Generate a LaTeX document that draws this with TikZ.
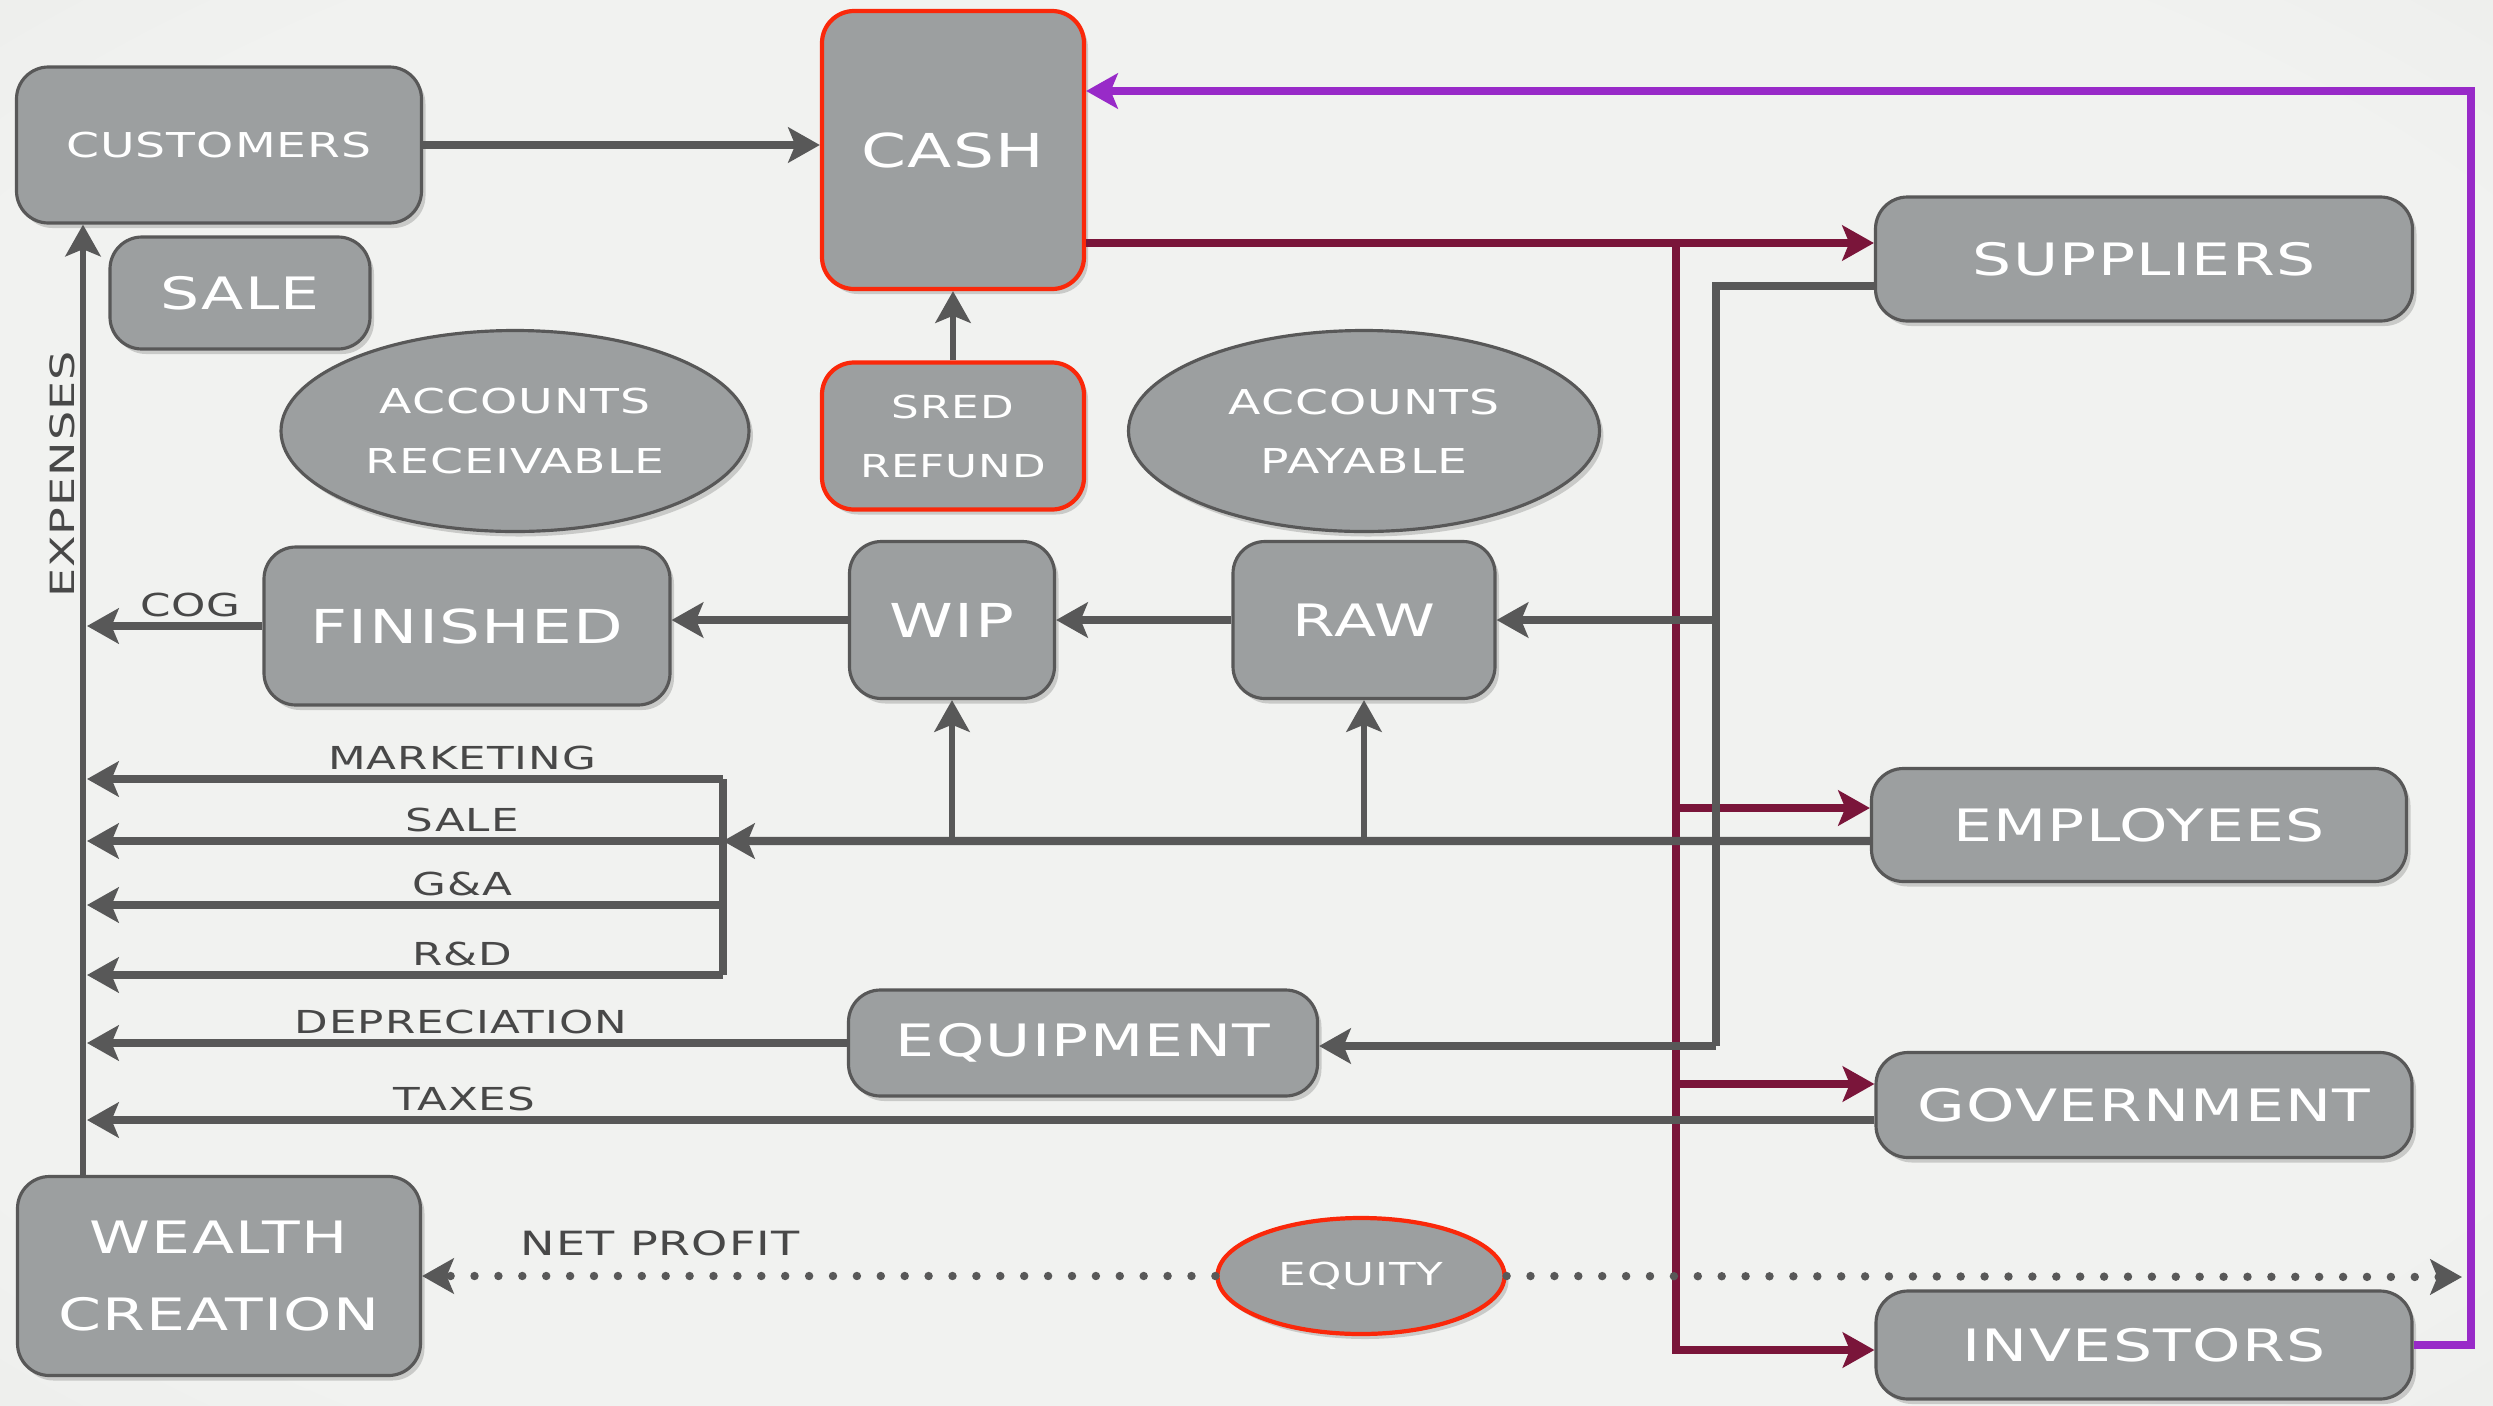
\documentclass[tikz,border=0pt]{standalone}
\usepackage{fontspec}
\setmainfont{DejaVu Sans}[FakeStretch=1.38,LetterSpace=3]
\usetikzlibrary{arrows.meta, shapes.geometric, shadows, calc}
\definecolor{paperin}{RGB}{241,242,240}
\definecolor{paperout}{RGB}{216,217,215}
\definecolor{stone}{RGB}{156,159,160}
\definecolor{rim}{RGB}{88,88,88}
\definecolor{wire}{RGB}{88,88,88}
\definecolor{ink}{RGB}{72,72,72}
\definecolor{wine}{RGB}{122,21,58}
\definecolor{payback}{RGB}{152,42,200}
\definecolor{alert}{RGB}{250,40,10}
\newcommand{\fsz}[2]{\fontsize{#1}{#2}\selectfont}
\pgfdeclareradialshading{paper}{\pgfpoint{0bp}{0bp}}{color(0bp)=(paperin); color(30bp)=(paperin); color(72bp)=(paperout)}

\begin{document}
\begin{tikzpicture}[x=1cm, y=1cm,
    tile/.style={draw=rim, line width=0.9pt, fill=stone, rounded corners=0.32cm, text=white, align=center, inner sep=0pt,
      drop shadow={opacity=0.35, shadow xshift=0.04cm, shadow yshift=-0.05cm}},
    oval/.style={ellipse, draw=rim, line width=0.9pt, fill=stone, text=white, align=center, inner sep=0pt,
      drop shadow={opacity=0.35, shadow xshift=0.04cm, shadow yshift=-0.05cm}},
    hot/.style={draw=alert, line width=1.2pt},
    flow/.style={draw=wire, line width=2.3pt, -{Stealth[length=9pt, width=10pt, inset=2pt]}},
    thinflow/.style={flow, line width=1.8pt},
    pipe/.style={draw=wire, line width=2.3pt},
    winearr/.style={draw=wine, line width=2.1pt, -{Stealth[length=9pt, width=10pt, inset=2pt]}},
    lbl/.style={text=ink, inner sep=1.5pt}]
  % paper
  \useasboundingbox (0,0) rectangle (24.93,-14.05);
  \shade[shading=paper] (0,0) rectangle (24.93,-14.05);

  % left column
  \node[tile, minimum width=4.05cm, minimum height=1.56cm, font=\fsz{9.75}{12}] (customers) at (2.19,-1.45) {CUSTOMERS};
  \node[tile, minimum width=2.60cm, minimum height=1.12cm, font=\fsz{12.7}{15}] (sale) at (2.40,-2.93) {SALE};
  \node[oval, minimum width=4.68cm, minimum height=2.01cm, font=\fsz{9.75}{16.8}] (receivable) at (5.15,-4.31) {ACCOUNTS\\RECEIVABLE};
  \node[tile, minimum width=4.06cm, minimum height=1.58cm, font=\fsz{13.3}{16}] (finished) at (4.67,-6.26) {FINISHED};
  \node[tile, minimum width=4.03cm, minimum height=1.99cm, font=\fsz{12.7}{22}] (wealth) at (2.19,-12.76) {WEALTH\\CREATION};

  % middle column
  \node[tile, hot, minimum width=2.62cm, minimum height=2.78cm, font=\fsz{13.3}{16}] (cash) at (9.53,-1.50) {CASH};
  \node[tile, hot, minimum width=2.62cm, minimum height=1.47cm, font=\fsz{9}{16.8}] (sred) at (9.53,-4.36) {SRED\\REFUND};
  \node[tile, minimum width=2.05cm, minimum height=1.57cm, font=\fsz{13.3}{16}] (wip) at (9.52,-6.20) {WIP};
  \node[oval, minimum width=4.71cm, minimum height=2.01cm, font=\fsz{9.75}{16.8}] (payable) at (13.64,-4.31) {ACCOUNTS\\PAYABLE};
  \node[tile, minimum width=2.62cm, minimum height=1.57cm, font=\fsz{12.7}{15}] (raw) at (13.64,-6.20) {RAW};
  \node[tile, minimum width=4.69cm, minimum height=1.06cm, font=\fsz{12.7}{15}] (equipment) at (10.83,-10.43) {EQUIPMENT};
  \node[oval, hot, minimum width=2.87cm, minimum height=1.16cm, font=\fsz{9}{12}] (equity) at (13.61,-12.76) {EQUITY};

  % right column
  \node[tile, minimum width=5.37cm, minimum height=1.24cm, font=\fsz{12.7}{15}] (suppliers) at (21.44,-2.59) {SUPPLIERS};
  \node[tile, minimum width=5.35cm, minimum height=1.13cm, font=\fsz{12.7}{15}] (employees) at (21.39,-8.25) {EMPLOYEES};
  \node[tile, minimum width=5.36cm, minimum height=1.05cm, font=\fsz{12.7}{15}] (government) at (21.44,-11.05) {GOVERNMENT};
  \node[tile, minimum width=5.36cm, minimum height=1.08cm, font=\fsz{12.7}{15}] (investors) at (21.44,-13.45) {INVESTORS};

  % helper points
  \coordinate (xv) at (0.83,0);
  \coordinate (xa) at (0.87,0);
  \coordinate (bk) at (7.23,-8.41);
  \coordinate (mtop) at (16.76,-2.43);
  \coordinate (gbot) at (17.16,-10.46);
  \coordinate (ptop) at (24.71,-0.91);
  \coordinate (dotend) at (24.62,-12.77);

  % expenses spine
  \draw[thinflow] (wealth.north -| xv) -- (customers.south -| xv)
    node[pos=0.737, anchor=south, rotate=90, lbl, font=\fsz{9.5}{12}] {EXPENSES};

  % cash in
  \draw[flow] (customers.east) -- (customers.east -| cash.west);
  \draw[thinflow] (sred.north) -- (cash.south);

  % inventory chain
  \draw[flow] (raw.west) -- (raw.west -| wip.east);
  \draw[flow] (wip.west) -- (wip.west -| finished.east);
  \draw[flow] (finished.west) -- (finished.west -| xa)
    node[pos=0.41, above, lbl, font=\fsz{9}{12}] {COG};

  % cash out
  \draw[winearr] (cash.east |- mtop) -- (suppliers.west |- mtop);
  \draw[winearr] (mtop) |- ([yshift=0.17cm]employees.west);
  \draw[winearr] (mtop) |- ([yshift=0.21cm]government.west);
  \draw[winearr] (mtop) |- ([yshift=-0.05cm]investors.west);

  % suppliers feed
  \draw[pipe] ([yshift=-0.27cm]suppliers.west) -| (gbot);
  \draw[flow] (gbot |- raw.east) -- (raw.east);
  \draw[flow] (gbot) -- (gbot -| equipment.east);

  % employees feed
  \draw[flow] ([yshift=-0.16cm]employees.west) -- (bk);
  \draw[thinflow] (wip.south |- bk) -- (wip.south);
  \draw[thinflow] (raw.south |- bk) -- (raw.south);
  \draw[pipe] (7.23,-7.79) -- (7.23,-9.75);
  \foreach \yy/\lab in {7.79/MARKETING, 8.41/SALE, 9.05/G\&A, 9.75/R\&D}
    \draw[flow] (7.23,-\yy) -- (xa |- 0,-\yy)
      node[pos=0.41, above, lbl, font=\fsz{9}{12}] {\lab};

  % other expenses
  \draw[flow] (equipment.west) -- (equipment.west -| xa)
    node[pos=0.508, above, lbl, font=\fsz{9}{12}] {DEPRECIATION};
  \draw[flow] ([yshift=-0.15cm]government.west) -- ([yshift=-0.15cm]government.west -| xa)
    node[pos=0.789, above, lbl, font=\fsz{9}{12}] {TAXES};

  % profit
  \draw[flow, line width=2.4pt, dash pattern=on 0pt off 6.8pt, line cap=round] (equity.west) -- (wealth.east)
    node[pos=0.70, above=3pt, lbl, font=\fsz{9.5}{12}] {NET PROFIT};
  \draw[flow, line width=2.4pt, dash pattern=on 0pt off 6.8pt, line cap=round] (equity.east) -- (dotend);

  % investors back to cash
  \draw[draw=payback, line width=2.3pt, -{Stealth[length=9pt, width=10pt, inset=2pt]}] (investors.east) -| (ptop) -- (ptop -| cash.east);
\end{tikzpicture}
\end{document}
